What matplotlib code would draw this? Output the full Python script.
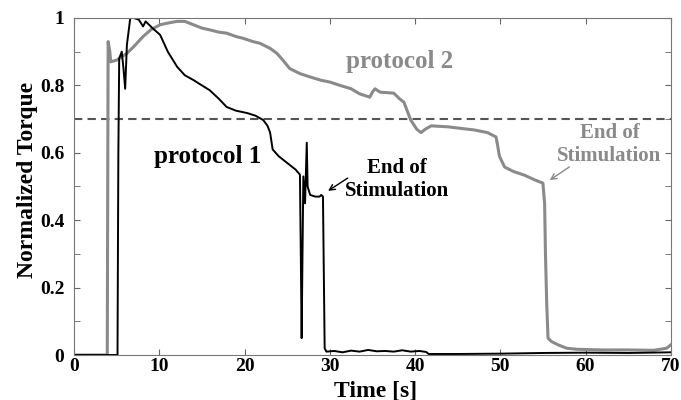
import matplotlib
matplotlib.use("Agg")
import matplotlib.pyplot as plt
from matplotlib.ticker import MultipleLocator

# protocol 1 (black)
t1 = [0, 5.1, 5.2, 5.3, 5.6, 5.8, 6.0, 6.2, 6.6, 7.0, 7.6, 8.1, 8.4, 9.2, 10.1,
      11.0, 12.1, 13.0, 14.0, 15.0, 15.9, 17.0, 17.9, 19.0, 20.3, 21.3, 22.2,
      22.7, 23.0, 23.3, 24.0, 25.0, 26.0, 26.5, 26.6, 26.7, 26.8, 26.9, 27.1,
      27.3, 27.4, 27.7, 28.3, 28.8, 29.0, 29.2, 29.4, 29.6, 30.5, 31.5, 32.5,
      33.5, 34.5, 35.5, 36.5, 37.5, 38.5, 39.5, 40.5, 41.3, 41.6, 45, 50, 55,
      60, 65, 70]
p1 = [0, 0, 0.6, 0.88, 0.9, 0.85, 0.79, 0.92, 1.0, 1.0, 0.995, 0.975, 0.99, 0.97,
      0.95, 0.9, 0.855, 0.83, 0.816, 0.8, 0.786, 0.76, 0.736, 0.725, 0.718,
      0.71, 0.697, 0.68, 0.66, 0.61, 0.59, 0.57, 0.55, 0.535, 0.3, 0.05, 0.3,
      0.53, 0.45, 0.63, 0.5, 0.475, 0.47, 0.47, 0.475, 0.47, 0.02, 0.01, 0.012,
      0.008, 0.013, 0.01, 0.015, 0.011, 0.012, 0.01, 0.014, 0.01, 0.012, 0.009,
      0.003, 0.003, 0.004, 0.006, 0.007, 0.006, 0.008]

# protocol 2 (gray)
t2 = [0, 3.9, 4.0, 4.2, 4.3, 5.0, 6.2, 7.0, 8.1, 9.0, 10.1, 11.0, 12.1, 13.0,
      14.0, 15.0, 15.9, 17.0, 17.9, 19.0, 19.8, 21.0, 21.8, 23.0, 23.8, 24.5,
      25.3, 26.5, 27.7, 29.0, 30.0, 31.2, 32.5, 33.5, 34.7, 35.0, 35.3, 35.9,
      37.5, 38.2, 38.7, 39.5, 40.2, 40.7, 41.2, 41.9, 43.9, 45.5, 46.9, 48.5,
      49.5, 49.7, 49.9, 50.5, 51.5, 52.8, 54.0, 55.0, 55.2, 55.3, 55.45, 55.6,
      56.0, 56.8, 57.8, 59.0, 62.0, 65.0, 68.0, 69.5, 70.0]
p2 = [0, 0, 0.93, 0.9, 0.87, 0.875, 0.895, 0.915, 0.945, 0.965, 0.98, 0.985,
      0.99, 0.99, 0.98, 0.97, 0.965, 0.958, 0.955, 0.945, 0.94, 0.93, 0.925,
      0.91, 0.895, 0.875, 0.85, 0.835, 0.825, 0.815, 0.81, 0.8, 0.79, 0.775,
      0.765, 0.78, 0.79, 0.78, 0.777, 0.76, 0.75, 0.697, 0.67, 0.66, 0.67,
      0.68, 0.677, 0.672, 0.668, 0.66, 0.647, 0.62, 0.59, 0.558, 0.545, 0.534,
      0.52, 0.51, 0.45, 0.3, 0.15, 0.05, 0.04, 0.03, 0.02, 0.017, 0.015, 0.015,
      0.014, 0.02, 0.03]

threshold = 0.7
yticks = [0, 0.2, 0.4, 0.6, 0.8, 1.0]
ytick_labels = ["0", "0.2", "0.4", "0.6", "0.8", "1"]

font = "Liberation Serif"
gray = "#8a8a8a"

fig = plt.figure(figsize=(6.81, 4.0), dpi=100)
ax = fig.add_axes([0.1087, 0.1125, 0.8763, 0.8425])

ax.axhline(threshold, color="#555555", lw=1.5, ls=(0, (4, 2.5)))
ax.plot(t2, p2, color=gray, lw=2.2)
ax.plot(t1, p1, color="black", lw=1.4)

ax.set_xlim(0, 70)
ax.set_ylim(0, 1)
ax.xaxis.set_major_locator(MultipleLocator(10))
ax.set_yticks(yticks)
ax.set_yticklabels(ytick_labels)
ax.yaxis.set_minor_locator(MultipleLocator(0.1))
ax.tick_params(direction="in", top=True, right=True, which="both",
               length=4, color="#666666", labelsize=14)
ax.tick_params(axis="x", pad=2)
ax.tick_params(axis="y", pad=7)
for lab in ax.get_xticklabels() + ax.get_yticklabels():
    lab.set_fontfamily(font)
    lab.set_fontweight("bold")
for s in ax.spines.values():
    s.set_color("#777777")

ax.set_xlabel("Time [s]", fontfamily=font, fontweight="bold", fontsize=17)
ax.xaxis.set_label_coords(0.506, -0.075)
ax.set_ylabel("Normalized Torque", fontfamily=font, fontweight="bold", fontsize=17)
ax.yaxis.set_label_coords(-0.061, 0.52)

ax.text(38.2, 0.87, "protocol 2", color=gray, fontfamily=font, fontweight="bold",
        fontsize=18, ha="center", va="center")
ax.text(15.7, 0.588, "protocol 1", color="black", fontfamily=font, fontweight="bold",
        fontsize=18, ha="center", va="center")

ax.text(37.9, 0.52, "End of\nStimulation", color="black", fontfamily=font,
        fontweight="bold", fontsize=15, ha="center", va="center")
ax.annotate("", xy=(29.8, 0.487), xytext=(32.1, 0.525),
            arrowprops=dict(arrowstyle="->", color="black", lw=1,
                            shrinkA=0, shrinkB=0))
ax.text(62.8, 0.626, "End of\nStimulation", color=gray, fontfamily=font,
        fontweight="bold", fontsize=15, ha="center", va="center")
ax.annotate("", xy=(55.8, 0.519), xytext=(58.1, 0.558),
            arrowprops=dict(arrowstyle="->", color=gray, lw=1,
                            shrinkA=0, shrinkB=0))

fig.savefig("out.png", dpi=100)
